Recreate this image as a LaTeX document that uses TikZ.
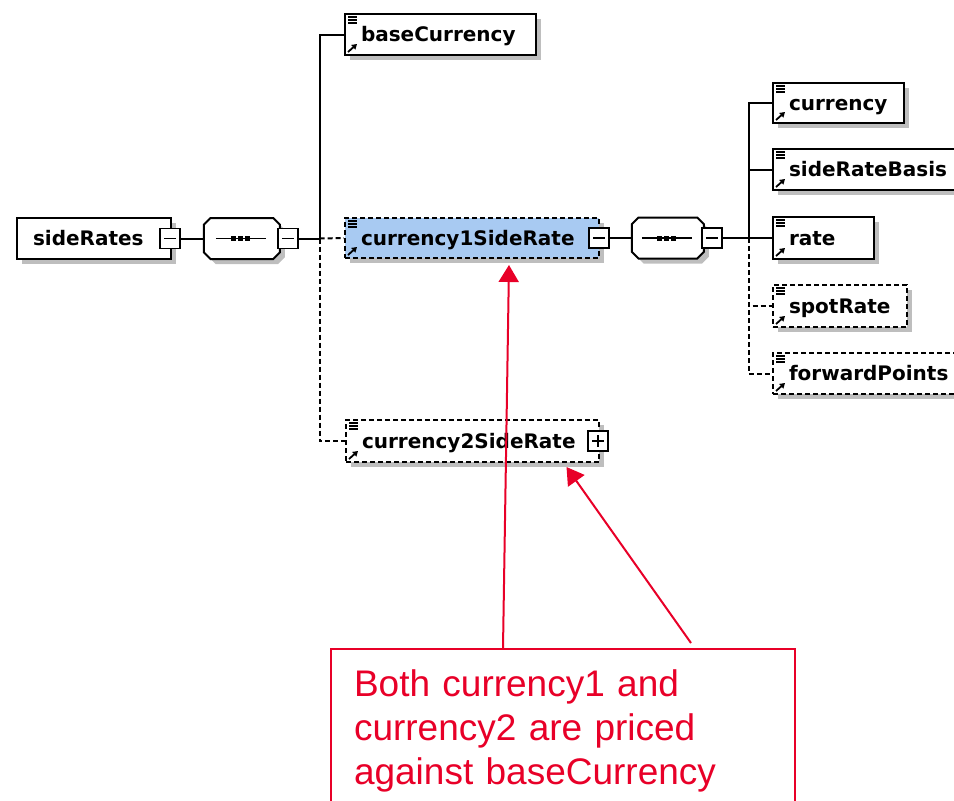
\documentclass[tikz,border=0pt]{standalone}
\usepackage{fontspec}
\setmainfont{DejaVu Sans}
\newfontfamily\notefont{Liberation Sans}
\usepackage{tikz}
\usetikzlibrary{shapes, shapes.misc, arrows, arrows.meta, shadows}

\definecolor{shadowGray}{RGB}{190,190,190}
\definecolor{selectBlue}{RGB}{168,202,242}
\definecolor{noteRed}{RGB}{232,0,40}

\newcommand{\elemIcons}[1]{%
    \foreach \dy in {4, 7, 10}
        {\draw[line width=1.1pt] ([shift={(4,\dy)}]#1.north west) -- ++(9,0);}
    \draw[line width=1.8pt, -{Triangle[length=5pt, width=6pt]}] ([shift={(4,-4)}]#1.south west) -- ++(9,-8);
}
\newcommand{\seqMark}[1]{%
    \draw[line width=1.6pt] ([xshift=-26pt]#1.center) -- ([xshift=24pt]#1.center);
    \foreach \dx in {-8, -1, 6}
        {\fill ([shift={(\dx-2.5,-2.5)}]#1.center) rectangle ++(5,5);}
}

\begin{document}
\begin{tikzpicture}[
    x=1pt, y=-1pt,
    elem/.style={draw, fill=white, line width=2pt, anchor=north west,
        inner xsep=16pt, align=left, text height=14pt, text depth=0pt,
        font=\fontsize{20}{22}\selectfont\bfseries,
        drop shadow={shadow xshift=5pt, shadow yshift=-5pt, fill=shadowGray, opacity=1}},
    optional/.style={dash pattern=on 5pt off 3pt},
    seq/.style={draw, fill=white, line width=2pt, chamfered rectangle,
        chamfered rectangle xsep=16pt, chamfered rectangle ysep=14pt,
        minimum height=41pt, anchor=west,
        drop shadow={shadow xshift=5pt, shadow yshift=-5pt, fill=shadowGray, opacity=1}},
    toggle/.style={draw, fill=white, line width=1.8pt, minimum size=20pt, inner sep=0pt},
    minus/.style={toggle, path picture={
        \draw[line width=1.5pt] ([xshift=4pt]path picture bounding box.west) -- ([xshift=-4pt]path picture bounding box.east);}},
    plus/.style={toggle, path picture={
        \draw[line width=1.5pt] ([xshift=4pt]path picture bounding box.west) -- ([xshift=-4pt]path picture bounding box.east);
        \draw[line width=1.5pt] ([yshift=-4pt]path picture bounding box.north) -- ([yshift=4pt]path picture bounding box.south);}},
    conn/.style={line width=2pt},
    optConn/.style={conn, dash pattern=on 5pt off 3pt},
    note/.style={draw=noteRed, line width=2pt, anchor=north west, text=noteRed,
        inner xsep=23pt, inner ysep=21pt, text width=418pt, align=left,
        font=\notefont\fontsize{37}{44}\selectfont},
    noteArrow/.style={draw=noteRed, line width=2pt, -{Triangle[length=17pt, width=20pt]}, fill=noteRed}
    ]
    \path[use as bounding box, clip] (0,0) rectangle (954,801);

    \node[elem, text width=122pt, minimum height=41pt] (sideRates) at (16,217) {sideRates};
    \node[minus] (sideToggle) at ([xshift=-2pt]sideRates.east) {};
    \node[seq, minimum width=76pt, xshift=22pt] (seq1) at (sideToggle.east) {};
    \seqMark{seq1}
    \node[minus, anchor=west, xshift=-4pt] (seq1Toggle) at (seq1.east) {};
    \coordinate[xshift=21pt] (j1) at (seq1Toggle.east);

    \node[elem, text width=159pt, minimum height=41pt] (baseCurrency) at (344,13) {baseCurrency};
    \node[elem, optional, fill=selectBlue, text width=222pt, minimum height=40pt] (currency1SideRate) at (344,217) {currency1SideRate};
    \node[elem, optional, text width=221pt, minimum height=42pt] (currency2SideRate) at (345,419) {currency2SideRate};
    \node[minus] (c1Toggle) at ([xshift=-1pt]currency1SideRate.east) {};
    \node[plus] (c2Toggle) at ([xshift=-2pt]currency2SideRate.east) {};

    \node[seq, minimum width=72pt, xshift=21pt] (seq2) at (c1Toggle.east) {};
    \seqMark{seq2}
    \node[minus, anchor=west, xshift=-4pt] (seq2Toggle) at (seq2.east) {};
    \coordinate[xshift=26pt] (j2) at (seq2Toggle.east);

    \node[elem, text width=99pt, minimum height=40pt] (currency) at (772,82) {currency};
    \node[elem, text width=168pt, minimum height=41pt] (sideRateBasis) at (772,148) {sideRateBasis};
    \node[elem, text width=69pt, minimum height=42pt] (rate) at (772,216) {rate};
    \node[elem, optional, text width=102pt, minimum height=42pt] (spotRate) at (772,284) {spotRate};
    \node[elem, optional, text width=168pt, minimum height=41pt] (forwardPoints) at (772,352) {forwardPoints};

    \foreach \n in {baseCurrency, currency1SideRate, currency2SideRate, currency, sideRateBasis, rate, spotRate, forwardPoints}
        {\elemIcons{\n}}

    \draw[conn] (sideToggle.east) -- (seq1.west);
    \draw[conn] (seq1Toggle.east) -- (j1);
    \draw[conn] (j1) |- (baseCurrency.west);
    \draw[optConn] (j1) -- (currency1SideRate.west);
    \draw[optConn] (j1) |- (currency2SideRate.west);

    \draw[conn] (c1Toggle.east) -- (seq2.west);
    \draw[conn] (seq2Toggle.east) -- (rate.west);
    \draw[conn] (j2) |- (currency.west);
    \draw[conn] (j2) |- (sideRateBasis.west);
    \draw[optConn] (j2) |- (spotRate.west);
    \draw[optConn] (j2) |- (forwardPoints.west);

    \node[note] (note) at (330,648) {Both currency1 and\\currency2 are priced\\against baseCurrency};

    \coordinate[xshift=37pt, yshift=-6pt] (tip1) at (currency1SideRate.south);
    \coordinate[xshift=94pt, yshift=-4pt] (tip2) at (currency2SideRate.south);
    \draw[noteArrow] ([xshift=173pt]note.north west) -- (tip1);
    \draw[noteArrow] ([xshift=361pt, yshift=5pt]note.north west) -- (tip2);
\end{tikzpicture}
\end{document}
